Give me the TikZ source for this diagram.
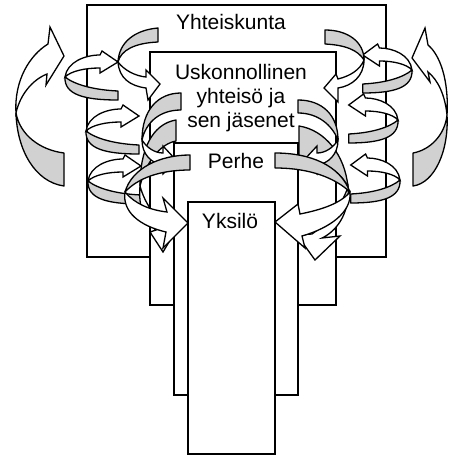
\documentclass[tikz,border=0pt]{standalone}
\usepackage{fontspec}
\setmainfont{Liberation Sans}
\usetikzlibrary{positioning}
\definecolor{ribbon}{gray}{0.82}
% one ring of the spiral, twist point at the origin
\newcommand{\ringarrow}{%
  \draw[back] (0,0) .. controls (10,8) and (30,13) .. (53,14) -- (53,23) .. controls (20,23) and (-1,18) .. (0,0) -- cycle;
  \draw[front] (0,0) .. controls (2,-15) and (20,-22) .. (35,-22) -- (37,-26) -- (53,-15) -- (35,-4) -- (35,-9) .. controls (20,-9) and (6,-6) .. (0,0) -- cycle;}

\begin{document}
\begin{tikzpicture}[x=1pt,y=-1pt,
  level/.style={draw,fill=white,line width=1.4pt},
  lbl/.style={inner sep=0pt,font=\fontsize{21}{24}\selectfont},
  back/.style={draw,fill=ribbon,line width=1.3pt,line join=round},
  front/.style={draw,fill=white,line width=1.3pt,line join=miter}]
  \useasboundingbox (0,0) rectangle (449,455);
  % nested levels
  \draw[level] (87,5) rectangle (386,257);
  \draw[level] (150,52) rectangle (336,305);
  \draw[level] (174,143) rectangle (298,395);
  \draw[level] (188,202) rectangle (275,454);
  \node[lbl,anchor=base] (yhteiskunta) at (231,29) {Yhteiskunta};
  \node[lbl,anchor=north,align=center] (yhteiso) at (241,64) {Uskonnollinen\\yhteisö ja\\sen jäsenet};
  \node[lbl,anchor=base] (perhe) at (236,168) {Perhe};
  \node[lbl,anchor=base] (yksilo) at (230,228) {Yksilö};

  % big side arrows
  \draw[back] (64,153) .. controls (40,150) and (20,135) .. (16,113) .. controls (17,150) and (35,182) .. (64,186) -- cycle;
  \draw[front] (16,113) .. controls (14,80) and (30,55) .. (48,44) -- (50,27) -- (64,56) -- (46,85) -- (47,74) .. controls (32,80) and (20,95) .. (16,113) -- cycle;
  \draw[back] (413,153) .. controls (430,150) and (445,135) .. (447,115) .. controls (449,150) and (435,183) .. (413,186) -- cycle;
  \draw[front] (447,115) .. controls (449,80) and (440,55) .. (428,45) -- (425,28) -- (412,58) -- (430,82) -- (428,72) .. controls (438,80) and (445,95) .. (447,115) -- cycle;

  % rings round the outer walls
  \foreach \wx/\wy in {65/77,86/131,88/181}
    \begin{scope}[shift={(\wx,\wy)}] \ringarrow \end{scope};
  \foreach \wx/\wy in {412/70,398/120,400/180}
    \begin{scope}[shift={(\wx,\wy)},xscale=-0.93] \ringarrow \end{scope};

  % Yhteiskunta -> yhteiso
  \draw[back] (158,28) .. controls (135,30) and (119,42) .. (118,62) .. controls (121,50) and (135,43) .. (158,42) -- cycle;
  \draw[front] (118,62) .. controls (119,78) and (130,86) .. (146,88) -- (148,100) -- (160,84) -- (146,70) -- (146,77) .. controls (135,76) and (124,70) .. (118,62) -- cycle;
  \draw[back] (325,30) .. controls (348,30) and (364,42) .. (364,60) .. controls (358,50) and (345,45) .. (325,44) -- cycle;
  \draw[front] (364,60) .. controls (364,76) and (352,86) .. (338,88) -- (338,102) -- (324,88) -- (336,74) -- (338,79) .. controls (350,76) and (360,70) .. (364,60) -- cycle;

  % yhteiso -> yksilo, downwards
  \draw[back] (176,120) .. controls (152,124) and (140,150) .. (140,186) .. controls (146,162) and (160,144) .. (176,141) -- cycle;
  \draw[front] (140,186) .. controls (138,208) and (145,222) .. (156,230) -- (150,232) -- (163,252) -- (175,232) -- (168,228) .. controls (155,217) and (145,204) .. (140,186) -- cycle;
  \draw[back] (299,126) .. controls (325,130) and (345,155) .. (348,187) .. controls (340,170) and (320,160) .. (299,160) -- cycle;
  \draw[front] (348,187) .. controls (350,215) and (335,232) .. (322,238) -- (340,236) -- (315,260) -- (297,235) -- (312,234) .. controls (325,225) and (340,210) .. (348,187) -- cycle;

  % yhteiso -> perhe
  \draw[back] (181,93) .. controls (158,93) and (142,110) .. (142,140) .. controls (146,122) and (160,110) .. (181,110) -- cycle;
  \draw[front] (142,140) .. controls (142,155) and (152,163) .. (162,165) -- (163,174) -- (176,160) -- (163,146) -- (163,153) .. controls (155,153) and (147,148) .. (142,140) -- cycle;
  \draw[back] (298,100) .. controls (322,100) and (338,115) .. (338,140) .. controls (332,125) and (318,113) .. (298,113) -- cycle;
  \draw[front] (338,140) .. controls (338,155) and (328,163) .. (318,165) -- (317,174) -- (304,160) -- (317,146) -- (317,153) .. controls (325,153) and (333,148) .. (338,140) -- cycle;

  % perhe -> yksilo
  \draw[back] (190,155) .. controls (160,155) and (132,168) .. (125,192) .. controls (138,178) and (160,170) .. (190,170) -- cycle;
  \draw[front] (125,192) .. controls (122,212) and (140,226) .. (166,232) -- (163,248) -- (188,223) -- (163,198) -- (167,212) .. controls (150,210) and (135,204) .. (125,192) -- cycle;
  \draw[back] (275,153) .. controls (310,153) and (340,165) .. (350,192) .. controls (335,178) and (310,168) .. (275,168) -- cycle;
  \draw[front] (350,192) .. controls (352,212) and (330,228) .. (302,236) -- (305,248) -- (275,222) -- (298,204) -- (300,214) .. controls (320,210) and (340,204) .. (350,192) -- cycle;
\end{tikzpicture}
\end{document}
